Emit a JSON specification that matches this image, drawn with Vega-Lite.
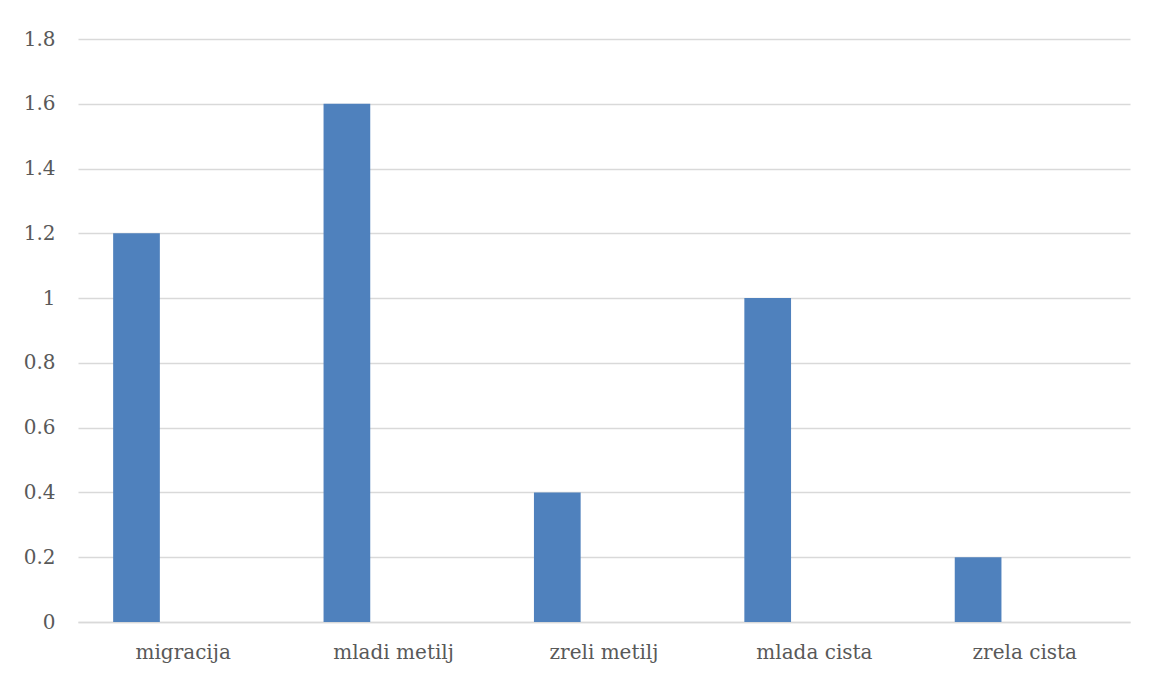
{
  "$schema": "https://vega.github.io/schema/vega-lite/v6.json",
  "autosize": "none",
  "width": 1052,
  "height": 583,
  "padding": {"left": 78, "top": 39, "right": 25, "bottom": 53},
  "background": "white",
  "data": {"values": [
    {"category": "migracija", "series": "A", "value": 1.2},
    {"category": "mladi metilj", "series": "A", "value": 1.6},
    {"category": "zreli metilj", "series": "A", "value": 0.4},
    {"category": "mlada cista", "series": "A", "value": 1.0},
    {"category": "zrela cista", "series": "A", "value": 0.2}
  ]},
  "mark": {"type": "bar", "color": "#4f81bd"},
  "encoding": {
    "x": {
      "field": "category", "type": "nominal", "sort": null,
      "scale": {"paddingInner": 0, "paddingOuter": 0},
      "axis": {"title": null, "labelAngle": 0, "ticks": false, "domain": true, "domainColor": "#d9d9d9", "domainWidth": 1.5,
        "labelFont": "DejaVu Serif", "labelFontSize": 20, "labelColor": "#595959", "labelPadding": 20}
    },
    "xOffset": {
      "field": "series", "type": "nominal",
      "scale": {"domain": ["A", "B", "C"], "paddingInner": 0, "paddingOuter": 0.7526}
    },
    "y": {
      "field": "value", "type": "quantitative",
      "scale": {"domain": [0, 1.8], "nice": false},
      "axis": {"title": null, "values": [0, 0.2, 0.4, 0.6, 0.8, 1, 1.2, 1.4, 1.6, 1.8], "format": ".1~f",
        "ticks": false, "domain": false, "grid": true, "gridColor": "#d9d9d9", "gridWidth": 1.5,
        "labelFont": "DejaVu Serif", "labelFontSize": 20, "labelColor": "#595959", "labelPadding": 23}
    }
  },
  "config": {"view": {"stroke": null}}
}
